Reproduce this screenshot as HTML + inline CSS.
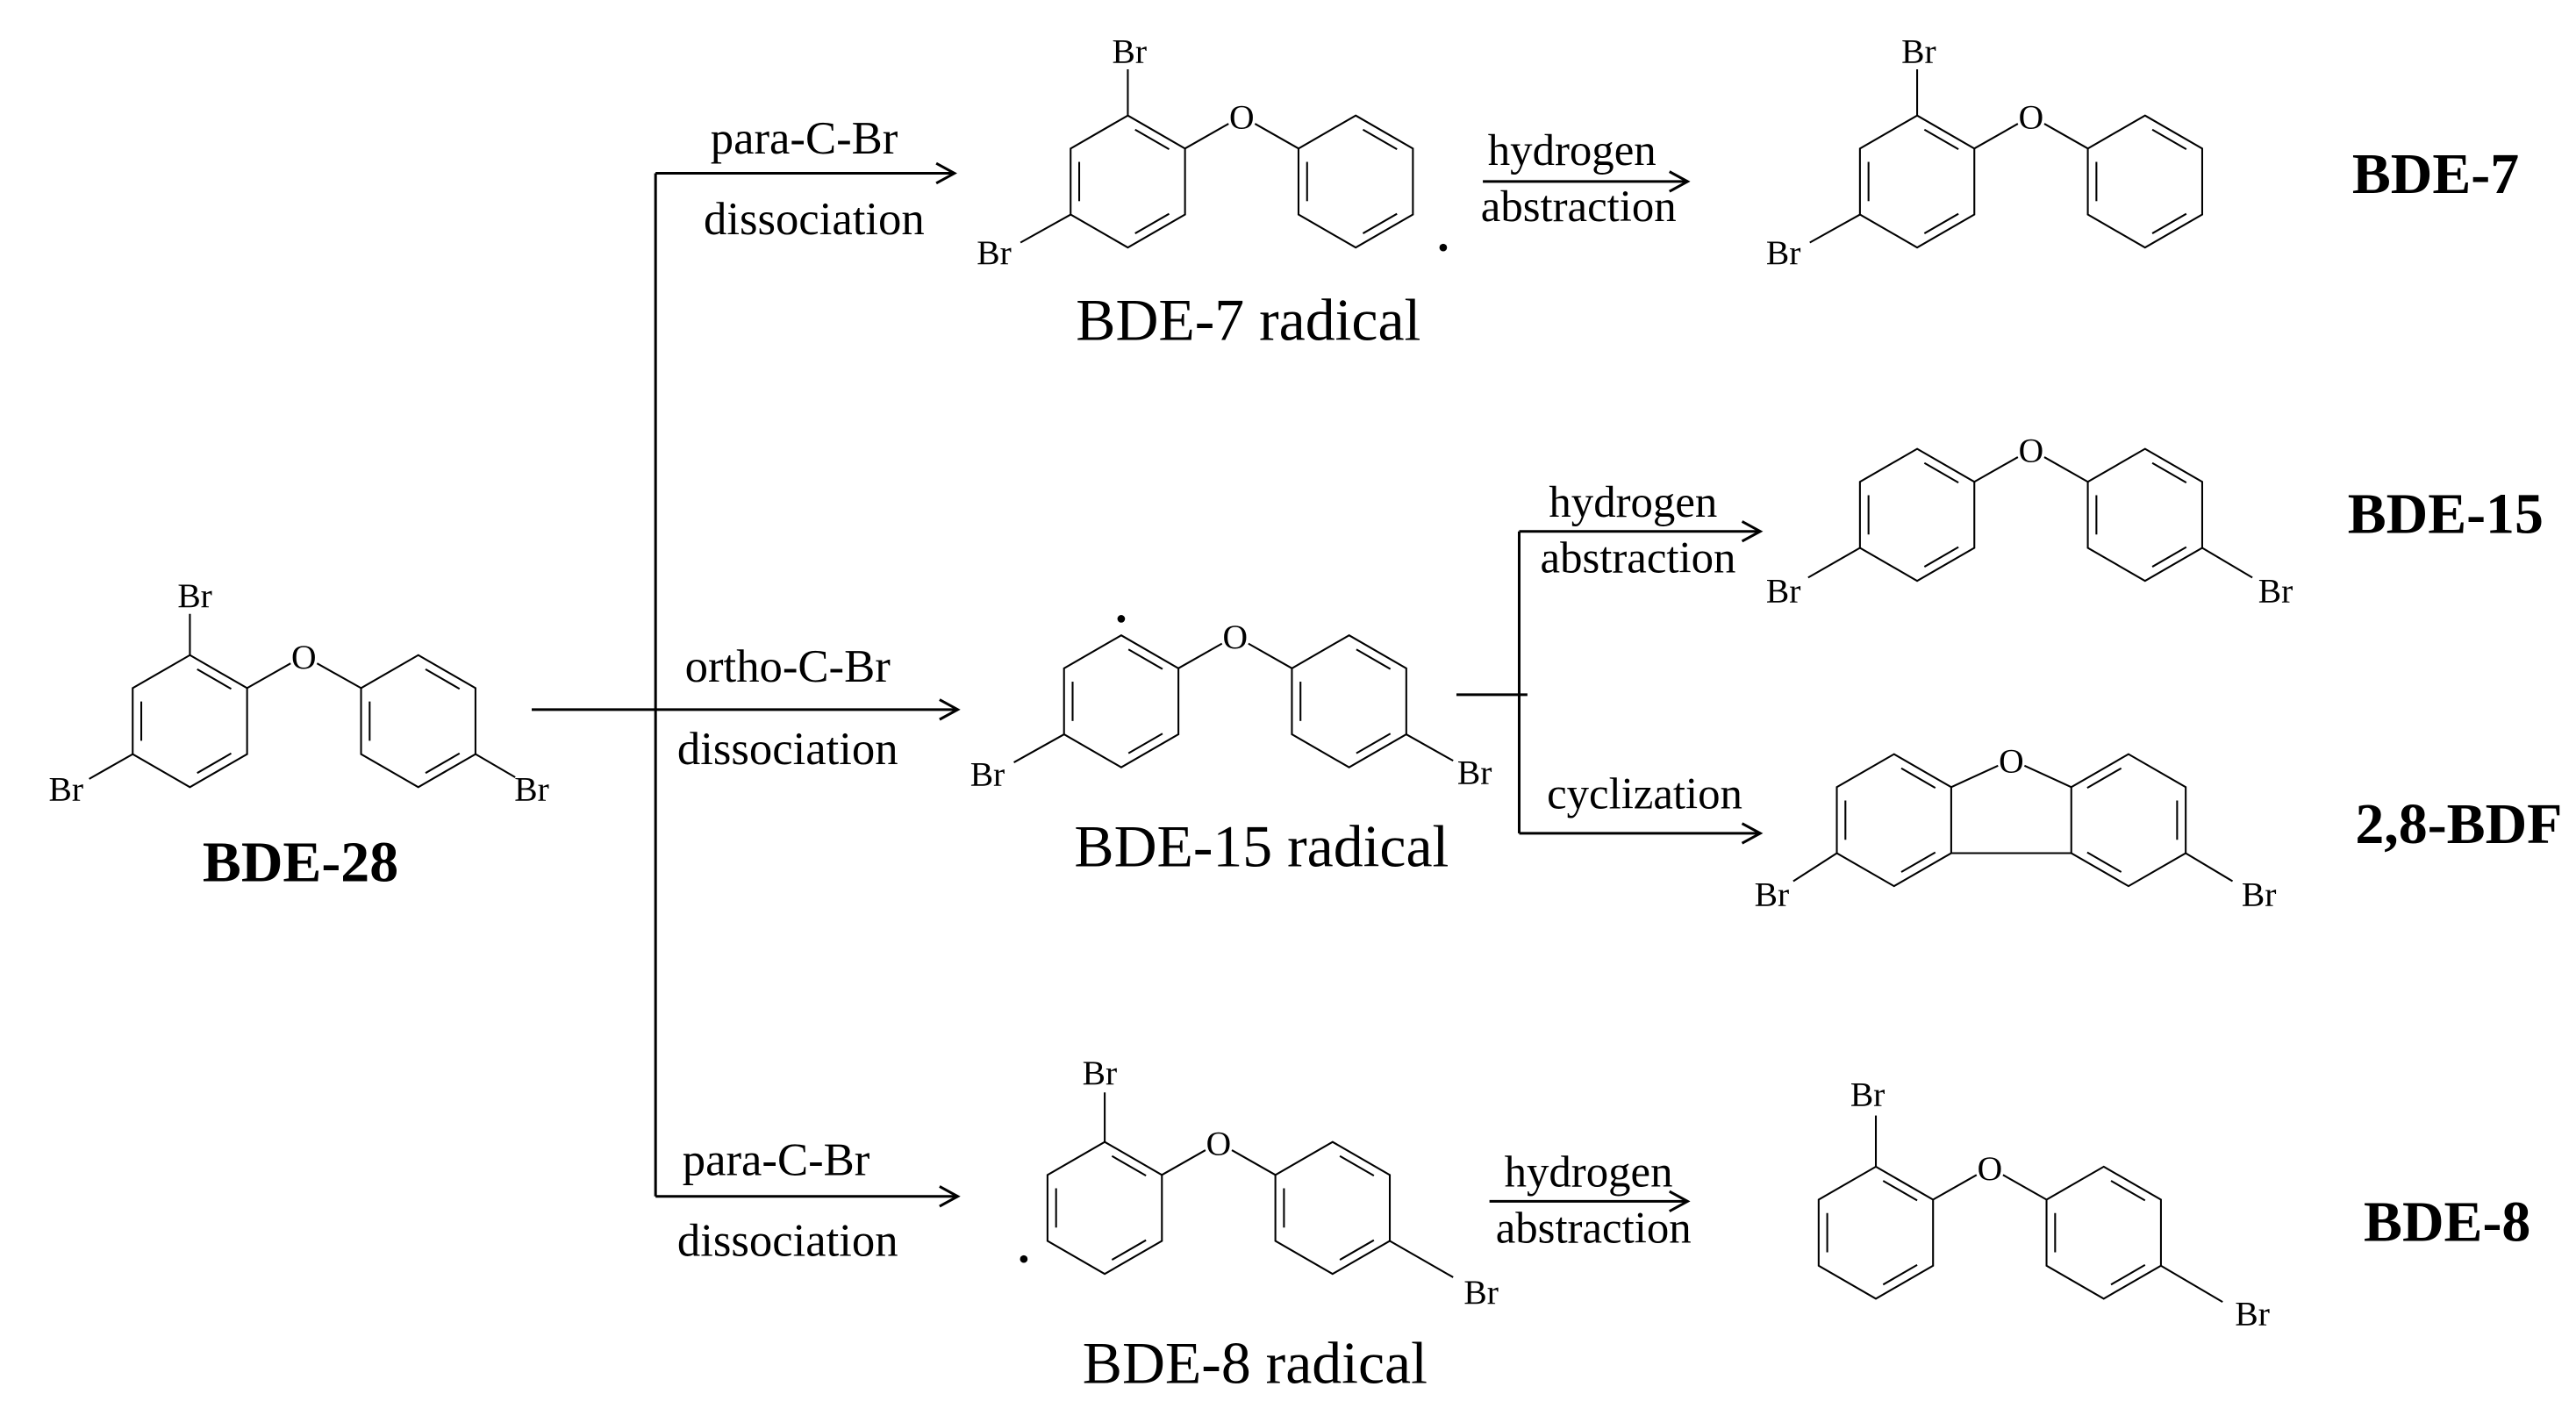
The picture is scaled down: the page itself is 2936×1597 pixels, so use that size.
<!DOCTYPE html>
<html><head><meta charset="utf-8"><style>
html,body{margin:0;padding:0;background:#fff;}
svg{display:block;}
text{font-family:"Liberation Serif",serif;fill:#000;}
</style></head><body>
<svg width="2936" height="1597" viewBox="0 0 1560 849" preserveAspectRatio="none" xmlns="http://www.w3.org/2000/svg">
<defs>
<g id="ring" fill="none" stroke="#000" stroke-width="1.1">
<polygon points="0,-40 34.64,-20 34.64,20 0,40 -34.64,20 -34.64,-20"/>
<line x1="4.4" y1="-31.45" x2="25" y2="-19.55"/>
<line x1="25" y1="19.55" x2="4.4" y2="31.45"/>
<line x1="-29.44" y1="11.9" x2="-29.44" y2="-11.9"/>
</g>
<g id="ringm" transform="scale(-1,1)"><use href="#ring"/></g>
<marker id="ah" markerWidth="14" markerHeight="14" refX="12" refY="7" orient="auto" markerUnits="userSpaceOnUse">
<path d="M1,1 L12,7 L1,13" fill="none" stroke="#000" stroke-width="1.6"/>
</marker>
</defs>

<g stroke="#000" stroke-width="1.6" fill="none">
<line x1="397" y1="105" x2="397" y2="725"/>
<line x1="397" y1="105" x2="578" y2="105" marker-end="url(#ah)"/>
<line x1="322" y1="430" x2="580" y2="430" marker-end="url(#ah)"/>
<line x1="397" y1="725" x2="580" y2="725" marker-end="url(#ah)"/>
<line x1="898" y1="110" x2="1022" y2="110" marker-end="url(#ah)"/>
<line x1="902" y1="728" x2="1022" y2="728" marker-end="url(#ah)"/>
<line x1="882" y1="421" x2="925" y2="421"/>
<line x1="920" y1="322" x2="920" y2="505"/>
<line x1="920" y1="322" x2="1066" y2="322" marker-end="url(#ah)"/>
<line x1="920" y1="505" x2="1066" y2="505" marker-end="url(#ah)"/>
</g>

<g font-size="28" text-anchor="middle">
<text x="487" y="93">para-C-Br</text>
<text x="493" y="142">dissociation</text>
<text x="477" y="413">ortho-C-Br</text>
<text x="477" y="463">dissociation</text>
<text x="470" y="712">para-C-Br</text>
<text x="477" y="761">dissociation</text>
</g>
<g font-size="27" text-anchor="middle">
<text x="952" y="100">hydrogen</text>
<text x="956" y="134">abstraction</text>
<text x="989" y="313">hydrogen</text>
<text x="992" y="347">abstraction</text>
<text x="996" y="490">cyclization</text>
<text x="962" y="719">hydrogen</text>
<text x="965" y="753">abstraction</text>
</g>

<g font-size="36" text-anchor="middle">
<text x="756" y="206">BDE-7 radical</text>
<text x="764" y="525">BDE-15 radical</text>
<text x="760" y="838">BDE-8 radical</text>
</g>
<g font-size="35" font-weight="bold" text-anchor="middle">
<text x="182" y="534">BDE-28</text>
<text x="1475" y="117">BDE-7</text>
<text x="1481" y="323">BDE-15</text>
<text x="1489" y="511">2,8-BDF</text>
<text x="1482" y="752">BDE-8</text>
</g>

<!-- BDE-28 -->
<use href="#ring" x="115" y="437"/><use href="#ring" x="253.3" y="437"/>
<g stroke="#000" stroke-width="1.1">
<line x1="149.6" y1="417" x2="176" y2="402"/><line x1="192" y1="402" x2="218.7" y2="417"/>
<line x1="115" y1="397" x2="115" y2="372"/>
<line x1="80.4" y1="457" x2="54" y2="472"/>
<line x1="288" y1="457" x2="312" y2="471"/>
</g>
<g font-size="21" text-anchor="middle">
<text x="184" y="405">O</text><text x="118" y="368">Br</text><text x="40" y="485">Br</text><text x="322" y="485">Br</text>
</g>

<!-- BDE-7 radical -->
<use href="#ring" x="683" y="110"/><use href="#ring" x="821" y="110"/>
<g stroke="#000" stroke-width="1.1">
<line x1="717.6" y1="90" x2="744" y2="75"/><line x1="760" y1="75" x2="786.4" y2="90"/>
<line x1="683" y1="70" x2="683" y2="42"/><line x1="648.4" y1="130" x2="618" y2="147"/>
</g>
<circle cx="874" cy="150" r="2.3"/>
<g font-size="21" text-anchor="middle">
<text x="752" y="78">O</text><text x="684" y="38">Br</text><text x="602" y="160">Br</text>
</g>

<!-- BDE-7 -->
<use href="#ring" x="1161" y="110"/><use href="#ring" x="1299" y="110"/>
<g stroke="#000" stroke-width="1.1">
<line x1="1195.6" y1="90" x2="1222" y2="75"/><line x1="1238" y1="75" x2="1264.4" y2="90"/>
<line x1="1161" y1="70" x2="1161" y2="42"/><line x1="1126.4" y1="130" x2="1096" y2="147"/>
</g>
<g font-size="21" text-anchor="middle">
<text x="1230" y="78">O</text><text x="1162" y="38">Br</text><text x="1080" y="160">Br</text>
</g>

<!-- BDE-15 radical -->
<use href="#ring" x="679" y="425"/><use href="#ring" x="817" y="425"/>
<g stroke="#000" stroke-width="1.1">
<line x1="713.6" y1="405" x2="740" y2="390"/><line x1="756" y1="390" x2="782.4" y2="405"/>
<line x1="644.4" y1="445" x2="614" y2="462"/><line x1="851.6" y1="445" x2="880" y2="461"/>
</g>
<circle cx="679" cy="375" r="2.3"/>
<g font-size="21" text-anchor="middle">
<text x="748" y="393">O</text><text x="598" y="476">Br</text><text x="893" y="475">Br</text>
</g>

<!-- BDE-15 -->
<use href="#ring" x="1161" y="312"/><use href="#ring" x="1299" y="312"/>
<g stroke="#000" stroke-width="1.1">
<line x1="1195.6" y1="292" x2="1222" y2="277"/><line x1="1238" y1="277" x2="1264.4" y2="292"/>
<line x1="1126.4" y1="332" x2="1095" y2="350"/><line x1="1333.6" y1="332" x2="1364" y2="350"/>
</g>
<g font-size="21" text-anchor="middle">
<text x="1230" y="280">O</text><text x="1080" y="365">Br</text><text x="1378" y="365">Br</text>
</g>

<!-- 2,8-BDF -->
<use href="#ring" x="1147" y="497"/><use href="#ringm" transform="translate(1289,497)"/>
<g stroke="#000" stroke-width="1.1">
<line x1="1181.6" y1="477" x2="1210" y2="464"/><line x1="1226" y1="464" x2="1254.4" y2="477"/>
<line x1="1181.6" y1="517" x2="1254.4" y2="517"/>
<line x1="1112.4" y1="517" x2="1086" y2="534"/><line x1="1323.6" y1="517" x2="1352" y2="534"/>
</g>
<g font-size="21" text-anchor="middle">
<text x="1218" y="468">O</text><text x="1073" y="549">Br</text><text x="1368" y="549">Br</text>
</g>

<!-- BDE-8 radical -->
<use href="#ring" x="669" y="732"/><use href="#ring" x="807" y="732"/>
<g stroke="#000" stroke-width="1.1">
<line x1="703.6" y1="712" x2="730" y2="697"/><line x1="746" y1="697" x2="772.4" y2="712"/>
<line x1="669" y1="692" x2="669" y2="662"/><line x1="841.6" y1="752" x2="880" y2="774"/>
</g>
<circle cx="620" cy="763" r="2.3"/>
<g font-size="21" text-anchor="middle">
<text x="738" y="700">O</text><text x="666" y="657">Br</text><text x="897" y="790">Br</text>
</g>

<!-- BDE-8 -->
<use href="#ring" x="1136" y="747"/><use href="#ring" x="1274" y="747"/>
<g stroke="#000" stroke-width="1.1">
<line x1="1170.6" y1="727" x2="1197" y2="712"/><line x1="1213" y1="712" x2="1239.4" y2="727"/>
<line x1="1136" y1="707" x2="1136" y2="676"/><line x1="1308.6" y1="767" x2="1346" y2="789"/>
</g>
<g font-size="21" text-anchor="middle">
<text x="1205" y="715">O</text><text x="1131" y="670">Br</text><text x="1364" y="803">Br</text>
</g>
</svg>
</body></html>
